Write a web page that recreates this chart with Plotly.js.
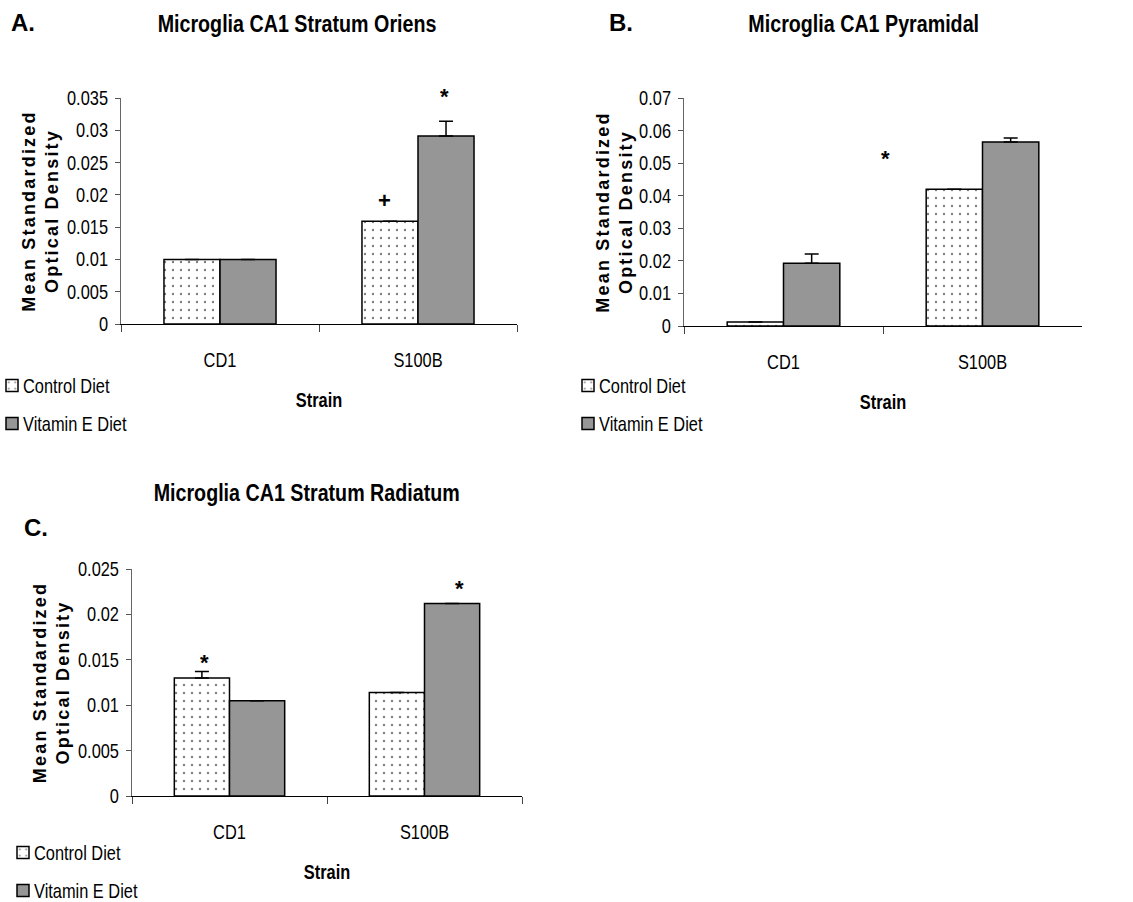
<!DOCTYPE html>
<html>
<head>
<meta charset="utf-8">
<script src="https://cdn.plot.ly/plotly-3.0.1.min.js"></script>
<style>
  html, body { margin: 0; padding: 0; background: #fff; }
  #chart { width: 1133px; height: 902px; }
</style>
</head>
<body>
<div id="chart"></div>
<script>
// ---------- data ----------
const strains = ["CD1", "S100B"];
const seriesNames = ["Control Diet", "Vitamin E Diet"];

// Panel A: Microglia CA1 Stratum Oriens
const oriensControl = [0.0100, 0.0159];
const oriensVitE = [0.0100, 0.0291];
const oriensControlErr = [0, 0];
const oriensVitEErr = [0, 0.0023];

// Panel B: Microglia CA1 Pyramidal
const pyramidalControl = [0.0012, 0.0420];
const pyramidalVitE = [0.0193, 0.0565];
const pyramidalControlErr = [0, 0];
const pyramidalVitEErr = [0.0028, 0.0012];

// Panel C: Microglia CA1 Stratum Radiatum
const radiatumControl = [0.0130, 0.0114];
const radiatumVitE = [0.0105, 0.0212];
const radiatumControlErr = [0.0007, 0];
const radiatumVitEErr = [0, 0];

const panelTitles = ["Microglia CA1 Stratum Oriens", "Microglia CA1 Pyramidal", "Microglia CA1 Stratum Radiatum"];
const panelLetters = ["A.", "B.", "C."];
const yTitle = "Mean Standardized<br>Optical Density";
const xTitle = "Strain";

// significance marks: [text, x (category index), y value]
const marksA = [["+", 0.833, 0.0191], ["*", 1.136, 0.0353]];
const marksB = [["*", 0.515, 0.0513]];
const marksC = [["*", -0.126, 0.01475], ["*", 1.177, 0.0228]];

// ---------- styling ----------
const FONT = '"Liberation Sans", Arial, sans-serif';
const GRAY = '#969696';
const NARROW_FACTOR = 0.82;

function pair(ctrl, vit, ctrlErr, vitErr, xa, ya, leg, tag) {
  return [
    {
      type: 'bar', name: seriesNames[0], x: strains, y: ctrl,
      xaxis: xa, yaxis: ya, legend: leg, legendgroup: tag + 'c',
      marker: {
        color: '#ffffff',
        line: { color: '#000', width: 1.5 },
        pattern: { shape: '.', fgcolor: '#000', bgcolor: '#fff', size: 8, solidity: 0.07, fillmode: 'overlay' }
      },
      error_y: { type: 'data', symmetric: false, array: ctrlErr, arrayminus: [0, 0], color: '#000', thickness: 1.5, width: 7, visible: true },
      hoverinfo: 'skip'
    },
    {
      type: 'bar', name: seriesNames[1], x: strains, y: vit,
      xaxis: xa, yaxis: ya, legend: leg, legendgroup: tag + 'v',
      marker: { color: GRAY, line: { color: '#000', width: 1.5 } },
      error_y: { type: 'data', symmetric: false, array: vitErr, arrayminus: [0, 0], color: '#000', thickness: 1.5, width: 7, visible: true },
      hoverinfo: 'skip'
    }
  ];
}

const data = [].concat(
  pair(oriensControl, oriensVitE, oriensControlErr, oriensVitEErr, 'x', 'y', 'legend', 'a'),
  pair(pyramidalControl, pyramidalVitE, pyramidalControlErr, pyramidalVitEErr, 'x2', 'y2', 'legend2', 'b'),
  pair(radiatumControl, radiatumVitE, radiatumControlErr, radiatumVitEErr, 'x3', 'y3', 'legend3', 'c')
);

const W = 1133, H = 902;
const px = v => v / W;
const py = v => 1 - v / H;

function xaxis(domain, anchor) {
  return {
    domain: domain, anchor: anchor, type: 'category', range: [-0.5, 1.5],
    showline: true, linecolor: '#000', linewidth: 1,
    ticks: 'outside', ticklen: 7, tickcolor: '#444', tickwidth: 1, tickson: 'boundaries',
    showgrid: false, zeroline: false, ticklabelstandoff: 18,
    tickfont: { family: FONT, size: 20, color: '#000' },
    title: { text: xTitle, standoff: 23, font: { family: FONT, size: 20, color: '#000', weight: 'bold' } },
    fixedrange: true
  };
}
const yMax = { y: 0.035, y2: 0.07, y3: 0.025 };
function yaxis(domain, anchor, id, dtick) {
  return {
    domain: domain, anchor: anchor, range: [0, yMax[id]], dtick: dtick, tick0: 0,
    showline: true, linecolor: '#666', linewidth: 1,
    ticks: 'outside', ticklen: 5, tickcolor: '#555', tickwidth: 1,
    showgrid: false, zeroline: false, ticklabelstandoff: 3,
    tickfont: { family: FONT, size: 20, color: '#000' },
    title: { text: yTitle, standoff: 2, font: { family: FONT, size: 18, color: '#000', weight: 'bold' } },
    fixedrange: true
  };
}

function legendAt(xpix, ytop) {
  return {
    x: px(xpix), y: py(ytop), xanchor: 'left', yanchor: 'top',
    traceorder: 'grouped', tracegroupgap: 9, bgcolor: 'rgba(0,0,0,0)',
    font: { family: FONT, size: 20, color: '#000' }, itemwidth: 30
  };
}

const annotations = [];
function title(text, cx, cy) {
  annotations.push({ text: text, xref: 'paper', yref: 'paper', x: px(cx), y: py(cy), xanchor: 'center', yanchor: 'middle',
    showarrow: false, font: { family: FONT, size: 24, color: '#000', weight: 'bold' } });
}
function letter(text, lx, cy) {
  annotations.push({ text: text, xref: 'paper', yref: 'paper', x: px(lx), y: py(cy), xanchor: 'left', yanchor: 'middle',
    showarrow: false, font: { family: FONT, size: 24, color: '#000', weight: 'bold' } });
}
function marks(list, xr, yr) {
  list.forEach(m => {
    const above = m[2] > yMax[yr];
    annotations.push({ text: m[0], xref: xr, yref: above ? yr + ' domain' : yr, x: m[1], y: above ? m[2] / yMax[yr] : m[2],
      xanchor: 'center', yanchor: 'middle',
      showarrow: false, font: { family: FONT, size: 22, color: '#000', weight: 'bold' } });
  });
}
title(panelTitles[0], 297, 23);
title(panelTitles[1], 863, 23);
title(panelTitles[2], 306, 493);
letter(panelLetters[0], 9, 22);
letter(panelLetters[1], 607, 22);
letter(panelLetters[2], 22, 527);
marks(marksA, 'x', 'y');
marks(marksB, 'x2', 'y2');
marks(marksC, 'x3', 'y3');

const layout = {
  width: W, height: H, margin: { l: 0, r: 0, t: 0, b: 0, autoexpand: false },
  paper_bgcolor: '#fff', plot_bgcolor: '#fff',
  barmode: 'group', bargap: 0.434, bargroupgap: 0,
  showlegend: true,
  xaxis: xaxis([px(121), px(517)], 'y'),
  yaxis: yaxis([py(324), py(98)], 'x', 'y', 0.005),
  xaxis2: xaxis([px(684), px(1082)], 'y2'),
  yaxis2: yaxis([py(326), py(98)], 'x2', 'y2', 0.01),
  xaxis3: xaxis([px(132), px(522)], 'y3'),
  yaxis3: yaxis([py(796), py(569)], 'x3', 'y3', 0.005),
  legend: legendAt(0, 366),
  legend2: legendAt(568, 366),
  legend3: legendAt(3, 833),
  annotations: annotations
};

// narrow (condensed) rendering of a text, keeping its anchor point fixed
function squeezeText(t, f) {
  if (t.dataset.sq && t.getAttribute('transform') === t.dataset.sq) return;
  const bb = t.getBBox();
  if (!bb || (bb.width === 0 && bb.height === 0)) return;
  const anchor = t.getAttribute('text-anchor') || 'start';
  let ax = bb.x;
  if (anchor === 'middle') ax = bb.x + bb.width / 2;
  else if (anchor === 'end') ax = bb.x + bb.width;
  const tr = (t.getAttribute('transform') || '').trim();
  const nt = (tr + ' translate(' + (ax * (1 - f)).toFixed(3) + ',0) scale(' + f + ',1)').trim();
  t.setAttribute('transform', nt);
  t.dataset.sq = t.getAttribute('transform');
}

const LEGEND_TEXT = 'text.legendtext, text.legend2text, text.legend3text';
const LEGEND_TEXT_X = '31';

function finish() {
  const root = document.getElementById('chart');
  root.querySelectorAll(LEGEND_TEXT).forEach(t => {
    if (t.getAttribute('x') !== LEGEND_TEXT_X) {
      t.setAttribute('x', LEGEND_TEXT_X);
      t.querySelectorAll('tspan[x]').forEach(s => s.setAttribute('x', LEGEND_TEXT_X));
      delete t.dataset.sq;
    }
  });
  const sel = [
    '.xtick text', '.x2tick text', '.x3tick text',
    '.ytick text', '.y2tick text', '.y3tick text',
    '.g-xtitle text', '.g-x2title text', '.g-x3title text',
    LEGEND_TEXT
  ];
  root.querySelectorAll(sel.join(',')).forEach(t => squeezeText(t, NARROW_FACTOR));
  root.querySelectorAll('.annotation-text').forEach(t => {
    if (panelTitles.indexOf(t.textContent) >= 0) squeezeText(t, NARROW_FACTOR);
  });
  root.querySelectorAll('.g-ytitle, .g-y2title, .g-y3title').forEach(g => {
    if (g.getAttribute('transform') !== 'translate(8,0)') g.setAttribute('transform', 'translate(8,0)');
    g.querySelectorAll('text').forEach(t => { if (t.style.letterSpacing !== '2.2px') t.style.letterSpacing = '2.2px'; });
  });
  const lg = root.querySelector('g.legend');
  if (lg) {
    const cur = lg.getAttribute('transform') || '';
    if (cur !== lg.dataset.shifted) {
      const m = /translate\(([-\d.]+)[ ,]+([-\d.]+)\)/.exec(cur);
      if (m) {
        lg.setAttribute('transform', 'translate(' + (parseFloat(m[1]) - 8) + ',' + m[2] + ')');
        lg.dataset.shifted = lg.getAttribute('transform');
      }
    }
  }
}

const gd = document.getElementById('chart');
let busy = false;
const observer = new MutationObserver(() => {
  if (busy) return;
  busy = true;
  try { finish(); } finally { busy = false; }
});
observer.observe(gd, { childList: true, subtree: true });
Plotly.newPlot(gd, data, layout, { staticPlot: true, displayModeBar: false }).then(() => {
  finish();
  requestAnimationFrame(finish);
  setTimeout(finish, 0);
  setTimeout(finish, 100);
  setTimeout(finish, 400);
});
</script>
</body>
</html>
